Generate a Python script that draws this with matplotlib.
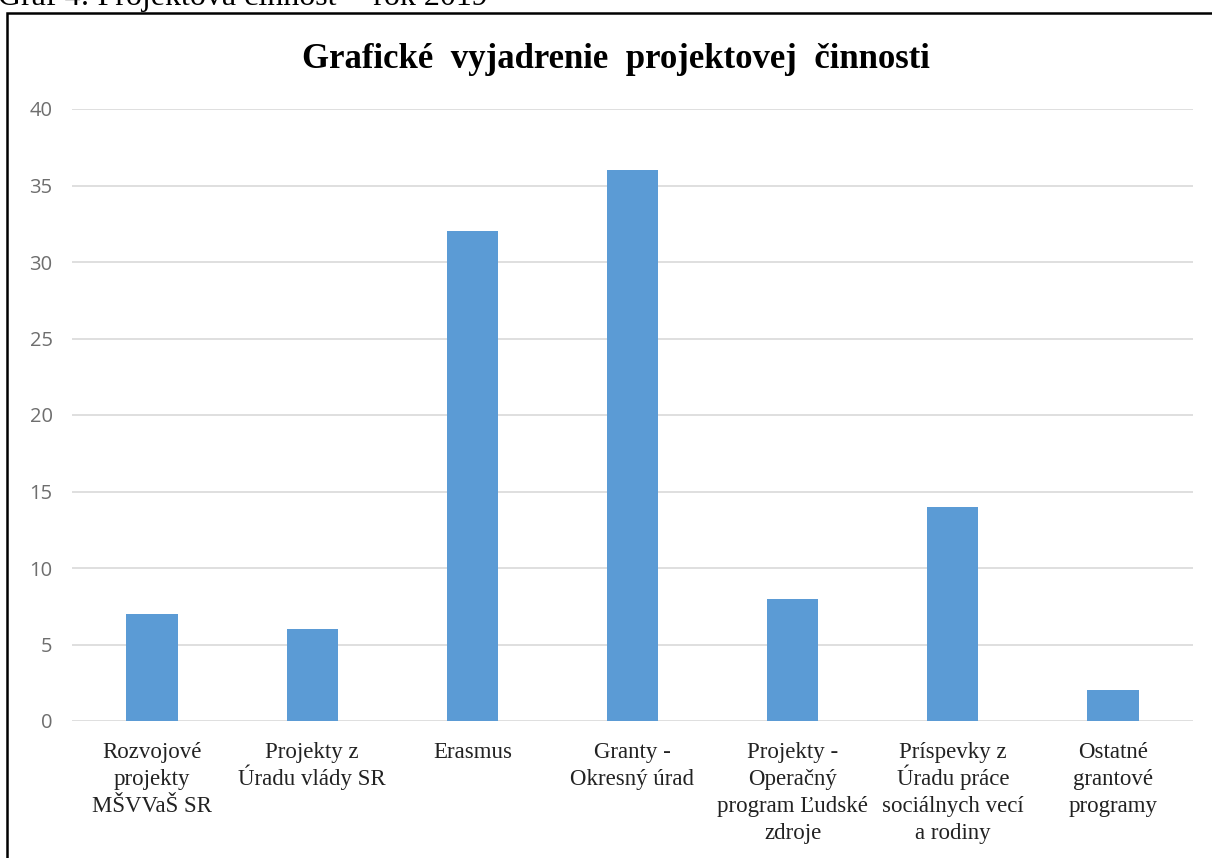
import matplotlib
matplotlib.use("Agg")
import matplotlib.pyplot as plt
from matplotlib.patches import Rectangle

categories = [
    "Rozvojové\nprojekty\nMŠVVaŠ SR",
    "Projekty z\nÚradu vlády SR",
    "Erasmus",
    "Granty -\nOkresný úrad",
    "Projekty -\nOperačný\nprogram Ľudské\nzdroje",
    "Príspevky z\nÚradu práce\nsociálnych vecí\na rodiny",
    "Ostatné\ngrantové\nprogramy",
]
values = [7, 6, 32, 36, 8, 14, 2]
yticks = [0, 5, 10, 15, 20, 25, 30, 35, 40]
title = "Grafické  vyjadrenie  projektovej  činnosti"
caption = "Graf 4: Projektová činnosť – rok 2019"

W, H = 1212, 858
fig = plt.figure(figsize=(W / 100, H / 100), dpi=100)
fig.patch.set_facecolor("white")

# outer frame (extends beyond the image on right and bottom)
fig.patches.append(Rectangle((7 / W, -0.1), 1.2, 1 - 13 / H + 0.1,
                             transform=fig.transFigure, fill=False,
                             edgecolor="black", linewidth=1.8, zorder=5))

fig.text(-2 / W, 1 - 5 / H, caption, fontsize=23, family="Liberation Serif",
         ha="left", va="baseline", color="black")

ax = fig.add_axes([72 / W, 1 - 721 / H, (1193 - 72) / W, (721 - 109) / H])
x = list(range(len(categories)))
ax.bar(x, values, width=0.32, color="#5B9BD5", zorder=3)
ax.set_xlim(-0.5, len(categories) - 0.5)
ax.set_ylim(0, 40)
ax.set_yticks(yticks)
ax.set_yticklabels([str(v) for v in yticks], fontsize=14.5, color="#6E6E6E",
                   family="Open Sans")
ax.set_xticks(x)
ax.set_xticklabels([""] * len(x))
# category labels: one text per line so that accents do not change spacing
px2pt = 72 / 100
for i, lab in enumerate(categories):
    for k, line in enumerate(lab.split("\n")):
        ax.annotate(line, xy=(i, 0), xycoords=("data", "axes fraction"),
                    xytext=(0, -(37 + 27 * k) * px2pt), textcoords="offset points",
                    ha="center", va="baseline", fontsize=16.5,
                    family="Liberation Serif", color="#222222",
                    annotation_clip=False)
ax.tick_params(axis="both", length=0)
ax.tick_params(axis="y", pad=14)
for s in ax.spines.values():
    s.set_visible(False)
ax.grid(axis="y", color="#D9D9D9", linewidth=1.2, zorder=0)

fig.text(616 / W, 1 - 59 / H, title, fontsize=25, fontweight="bold",
         family="Liberation Serif", ha="center", va="center")

fig.savefig("out.png", dpi=100)
